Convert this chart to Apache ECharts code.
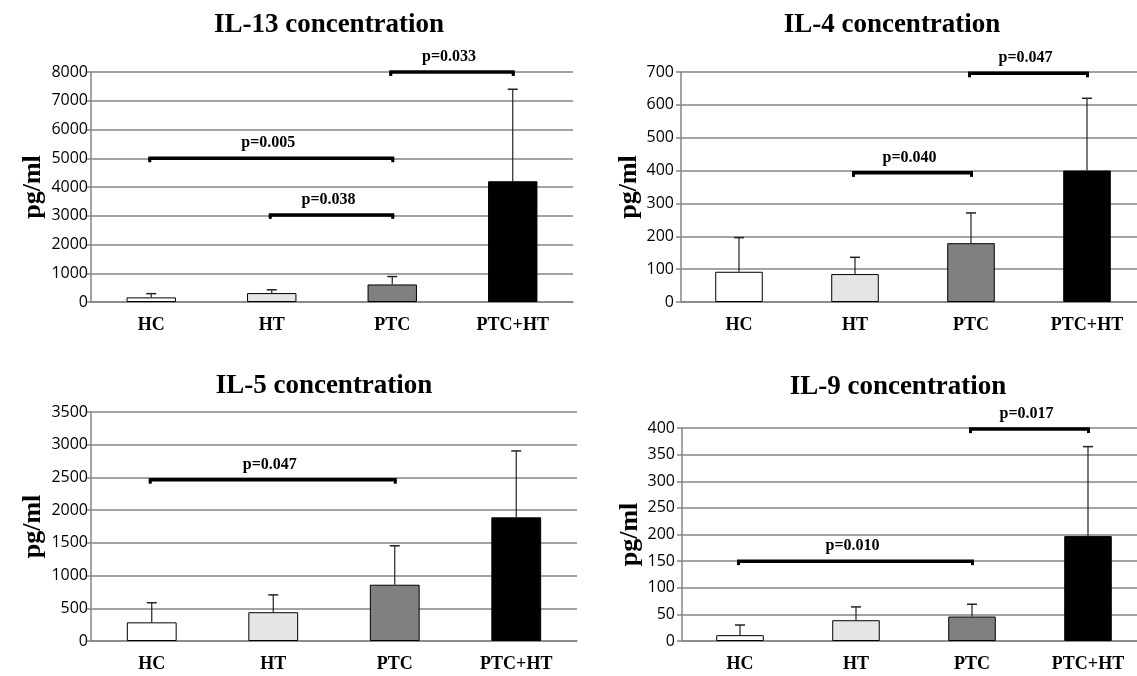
<!DOCTYPE html>
<html><head><meta charset="utf-8">
<script src="https://cdn.jsdelivr.net/npm/echarts@6/dist/echarts.min.js"></script>
<style>html,body{margin:0;padding:0;background:#fff}#c{width:1137px;height:676px}</style>
</head><body><div id="c"></div>
<script>
// ---- data ----
const categories = ['HC', 'HT', 'PTC', 'PTC+HT'];
const yTicksIL13 = [0, 1000, 2000, 3000, 4000, 5000, 6000, 7000, 8000];
const yTicksIL4 = [0, 100, 200, 300, 400, 500, 600, 700];
const yTicksIL5 = [0, 500, 1000, 1500, 2000, 2500, 3000, 3500];
const yTicksIL9 = [0, 50, 100, 150, 200, 250, 300, 350, 400];

const il13Mean = [160, 310, 610, 4200];
const il13SD = [130, 115, 275, 3200];
const il4Mean = [92, 85, 179, 400];
const il4SD = [104, 51, 92, 220];
const il5Mean = [285, 440, 860, 1890];
const il5SD = [300, 265, 595, 1015];
const il9Mean = [11, 39, 46, 197];
const il9SD = [19, 25, 23, 168];

const il13Brackets = [['HC', 'PTC', 5000, 'p=0.005'], ['HT', 'PTC', 3030, 'p=0.038'], ['PTC', 'PTC+HT', 8000, 'p=0.033']];
const il4Brackets = [['HT', 'PTC', 393, 'p=0.040'], ['PTC', 'PTC+HT', 696, 'p=0.047']];
const il5Brackets = [['HC', 'PTC', 2465, 'p=0.047']];
const il9Brackets = [['HC', 'PTC', 150, 'p=0.010'], ['PTC', 'PTC+HT', 398, 'p=0.017']];

const titles = ['IL-13 concentration', 'IL-4 concentration', 'IL-5 concentration', 'IL-9 concentration'];

// ---- styling / layout ----
const barColors = ['#ffffff', '#e6e6e6', '#808080', '#000000'];
const SERIF = '"Liberation Serif","Times New Roman",serif';
const SANS = '"Open Sans","Liberation Sans",sans-serif';
const GRAY = '#858585';

const panels = [
  { mean: il13Mean, sd: il13SD, br: il13Brackets, ticks: yTicksIL13, grid: { left: 91, top: 72, width: 482, height: 230 }, lblMargin: 3, nameGap: 45, title: [329, 25] },
  { mean: il4Mean, sd: il4SD, br: il4Brackets, ticks: yTicksIL4, grid: { left: 681, top: 72, width: 464, height: 230 }, lblMargin: 7, nameGap: 39, title: [892, 25] },
  { mean: il5Mean, sd: il5SD, br: il5Brackets, ticks: yTicksIL5, grid: { left: 91, top: 412, width: 486, height: 229 }, lblMargin: 3, nameGap: 45, title: [324, 386] },
  { mean: il9Mean, sd: il9SD, br: il9Brackets, ticks: yTicksIL9, grid: { left: 682, top: 428, width: 464, height: 213 }, lblMargin: 7, nameGap: 39, title: [898, 387] }
];

const grid = [], xAxis = [], yAxis = [], series = [], graphic = [];

panels.forEach((p, i) => {
  grid.push(Object.assign({ outerBoundsMode: 'none', containLabel: false }, p.grid));
  xAxis.push({
    type: 'category', gridIndex: i, data: categories,
    axisLine: { lineStyle: { color: GRAY, width: 1.5 } },
    axisTick: { length: 6, lineStyle: { color: GRAY, width: 1.5 } },
    axisLabel: { color: '#000', fontFamily: SERIF, fontWeight: 'bold', fontSize: 18, margin: 14 }
  });
  const tmax = p.ticks[p.ticks.length - 1];
  yAxis.push({
    type: 'value', gridIndex: i, min: p.ticks[0], max: tmax, interval: p.ticks[1] - p.ticks[0],
    name: 'pg/ml', nameLocation: 'middle', nameGap: p.nameGap,
    nameTextStyle: { color: '#000', fontFamily: SERIF, fontWeight: 'bold', fontSize: 26 },
    axisLine: { show: true, lineStyle: { color: GRAY, width: 1.5 } },
    axisTick: { show: true, length: 5, lineStyle: { color: GRAY, width: 1.5 } },
    splitLine: { show: true, lineStyle: { color: GRAY, width: 1.5 } },
    axisLabel: { color: '#000', fontFamily: SANS, fontSize: 16, margin: p.lblMargin, formatter: v => String(v) }
  });
  series.push({
    type: 'bar', xAxisIndex: i, yAxisIndex: i, barWidth: '41%',
    data: p.mean.map((v, k) => ({ value: v, itemStyle: { color: barColors[k], borderColor: '#000', borderWidth: 1 } })),
    z: 2
  });
  series.push({
    type: 'custom', xAxisIndex: i, yAxisIndex: i, z: 3,
    data: p.mean.map((v, k) => [k, v, v + p.sd[k]]),
    renderItem: (params, api) => {
      const a = api.coord([api.value(0), api.value(1)]);
      const b = api.coord([api.value(0), api.value(2)]);
      return {
        type: 'group', children: [
          { type: 'line', shape: { x1: a[0], y1: a[1], x2: b[0], y2: b[1] }, style: { stroke: '#222', lineWidth: 1.2 } },
          { type: 'line', shape: { x1: b[0] - 5, y1: b[1], x2: b[0] + 5, y2: b[1] }, style: { stroke: '#222', lineWidth: 1.5 } }
        ]
      };
    }
  });
  series.push({
    type: 'custom', xAxisIndex: i, yAxisIndex: i, z: 4, clip: false,
    data: p.br.map(b => [categories.indexOf(b[0]), categories.indexOf(b[1]), b[2], b[3]]),
    renderItem: (params, api) => {
      const a = api.coord([api.value(0), api.value(2)]);
      const b = api.coord([api.value(1), api.value(2)]);
      const x1 = a[0] - 3, x2 = b[0] + 2, y = a[1];
      const lbl = p.br[params.dataIndex][3];
      return {
        type: 'group', children: [
          { type: 'line', shape: { x1: x1, y1: y, x2: x2, y2: y }, style: { stroke: '#000', lineWidth: 3.5 } },
          { type: 'rect', shape: { x: x1, y: y, width: 3, height: 4 }, style: { fill: '#000' } },
          { type: 'rect', shape: { x: x2 - 3, y: y, width: 3, height: 4 }, style: { fill: '#000' } },
          { type: 'text', style: { text: lbl, x: (x1 + x2) / 2 - 3, y: y - 15, align: 'center', verticalAlign: 'middle', fill: '#000', font: 'bold 16px ' + SERIF } }
        ]
      };
    }
  });
  graphic.push({
    type: 'text', x: p.title[0], y: p.title[1],
    style: { text: titles[i], align: 'center', verticalAlign: 'middle', fill: '#000', font: 'bold 27px ' + SERIF }
  });
});

const chart = echarts.init(document.getElementById('c'), null, { renderer: 'canvas' });
chart.setOption({ animation: false, backgroundColor: '#fff', grid, xAxis, yAxis, series, graphic });
</script>
</body></html>
